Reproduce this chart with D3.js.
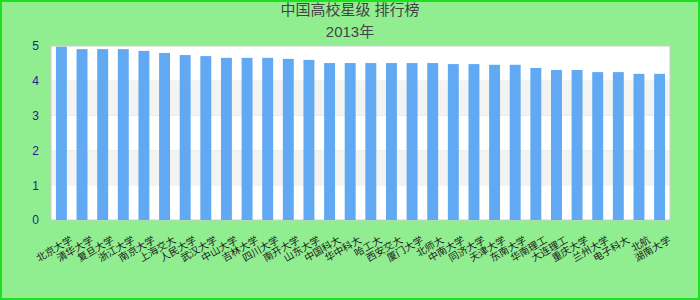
<!DOCTYPE html>
<html>
<head>
<meta charset="utf-8">
<script src="https://cdn.jsdelivr.net/npm/d3@7"></script>
<style>
  body { margin: 0; background: #fff; }
  text { font-family: "Liberation Sans", Arial, "Noto Sans CJK SC", sans-serif; }
</style>
</head>
<body>
<div id="chart"></div>
<script>
const title = "中国高校星级 排行榜",
      subtitle = "2013年";

const schools = ["北京大学", "清华大学", "复旦大学", "浙江大学", "南京大学", "上海交大",
  "人民大学", "武汉大学", "中山大学", "吉林大学", "四川大学", "南开大学", "山东大学",
  "中国科大", "华中科大", "哈工大", "西安交大", "厦门大学", "北师大", "中南大学",
  "同济大学", "天津大学", "东南大学", "华南理工", "大连理工", "重庆大学", "兰州大学",
  "电子科大", "北航", "湖南大学"];
const stars = [4.98, 4.91, 4.91, 4.91, 4.86, 4.80, 4.74, 4.71, 4.66, 4.66, 4.66, 4.63, 4.60,
  4.51, 4.51, 4.51, 4.51, 4.51, 4.51, 4.48, 4.48, 4.46, 4.46, 4.37, 4.31, 4.31, 4.25, 4.25,
  4.20, 4.20];
const yTicks = [0, 1, 2, 3, 4, 5];

let height = 300,
    width = 700,
    margin = ({ top: 46, right: 30, bottom: 80, left: 51 });

const svg = d3.select("#chart")
  .append("svg")
  .attr("width", width)
  .attr("height", height);

// background + green border
svg.append("rect")
  .attr("x", 1).attr("y", 1)
  .attr("width", width - 2).attr("height", height - 2)
  .attr("fill", "#90ee90")
  .attr("stroke", "#1ee01e")
  .attr("stroke-width", 2);

let x = d3.scaleBand()
  .domain(schools)
  .range([margin.left, width - margin.right])
  .paddingInner(0.47)
  .paddingOuter(0.24);

let y = d3.scaleLinear()
  .domain([0, 5])
  .range([height - margin.bottom, margin.top]);

// plot area with alternating bands
svg.append("g")
  .selectAll("rect")
  .data(yTicks.slice(0, -1))
  .join("rect")
  .attr("x", margin.left)
  .attr("y", d => y(d + 1))
  .attr("width", width - margin.left - margin.right)
  .attr("height", d => y(d) - y(d + 1))
  .attr("fill", d => d % 2 === 1 ? "#f3f3f3" : "#fff");

svg.append("rect")
  .attr("x", margin.left)
  .attr("y", margin.top)
  .attr("width", width - margin.left - margin.right)
  .attr("height", height - margin.bottom - margin.top)
  .attr("fill", "none")
  .attr("stroke", "#cccccc")
  .attr("stroke-width", 1);

// bars
svg.append("g")
  .selectAll("rect")
  .data(schools)
  .join("rect")
  .attr("x", d => x(d))
  .attr("y", (d, i) => y(stars[i]))
  .attr("width", x.bandwidth())
  .attr("height", (d, i) => y(0) - y(stars[i]))
  .attr("fill", "#62a9f3");

// y axis
const yAxis = svg.append("g")
  .attr("transform", `translate(${margin.left},0)`)
  .call(d3.axisLeft(y).tickValues(yTicks).tickFormat(d3.format("d")).tickSize(0).tickPadding(12));
yAxis.select(".domain").remove();
yAxis.selectAll("text")
  .attr("font-family", "'DejaVu Sans', sans-serif")
  .attr("font-size", "12px")
  .attr("fill", "#1f1f8f");

// x axis, rotated labels
const xAxis = svg.append("g")
  .attr("transform", `translate(0,${height - margin.bottom})`)
  .call(d3.axisBottom(x).tickSize(0).tickPadding(0));
xAxis.select(".domain").remove();
xAxis.selectAll("text")
  .attr("font-size", "10px")
  .attr("fill", "#222")
  .attr("text-anchor", "end")
  .attr("dy", 0)
  .attr("transform", "translate(12,22) rotate(-30)");

// titles
svg.append("text")
  .text(title)
  .attr("x", width / 2)
  .attr("y", 15)
  .attr("text-anchor", "middle")
  .attr("font-size", "15px")
  .attr("fill", "#444");

svg.append("text")
  .text(subtitle)
  .attr("x", width / 2)
  .attr("y", 37)
  .attr("text-anchor", "middle")
  .attr("font-size", "15px")
  .attr("fill", "#444");
</script>
</body>
</html>
